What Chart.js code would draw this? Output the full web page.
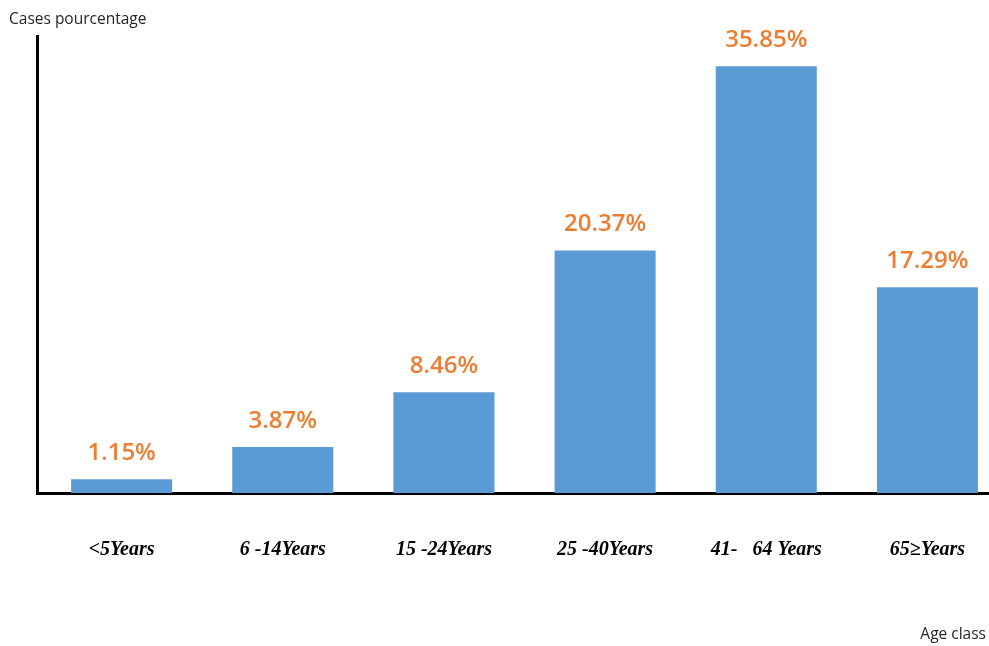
<!DOCTYPE html>
<html>
<head>
<meta charset="utf-8">
<script src="https://cdn.jsdelivr.net/npm/chart.js@4.4.1/dist/chart.umd.min.js"></script>
<style>
  html, body { margin: 0; padding: 0; background: #fff; }
  #wrap { width: 989px; height: 646px; position: relative; }
</style>
</head>
<body>
<div id="wrap"><canvas id="ageChart"></canvas></div>
<script>
const ageClasses = ['<5Years', '6 -14Years', '15 -24Years', '25 -40Years', '41-   64 Years', '65\u2265Years'];
const casePercents = [1.15, 3.87, 8.46, 20.37, 35.85, 17.29];
const yAxisTitle = 'Cases pourcentage';
const xAxisTitle = 'Age class';

// draws the % value above each bar plus the two axis titles
const labelsPlugin = {
    id: 'barLabels',
    afterDatasetsDraw(chart) {
        const ctx = chart.ctx;
        const meta = chart.getDatasetMeta(0);
        ctx.save();
        ctx.fillStyle = '#ED7D31';
        ctx.font = '600 24px "Open Sans"';
        ctx.textAlign = 'center';
        ctx.textBaseline = 'bottom';
        meta.data.forEach((bar, i) => {
            ctx.fillText(casePercents[i].toFixed(2) + '%', bar.x, bar.y - 14);
        });
        ctx.fillStyle = '#262626';
        ctx.font = '15.5px "Open Sans"';
        ctx.textAlign = 'left';
        ctx.textBaseline = 'middle';
        ctx.fillText(yAxisTitle, 9, 20);
        ctx.textAlign = 'right';
        ctx.fillText(xAxisTitle, 986, 635);
        ctx.restore();
    }
};

const ctx = document.getElementById('ageChart').getContext('2d');
new Chart(ctx, {
    type: 'bar',
    data: {
        datasets: [{
            data: casePercents.map((v, i) => ({ x: i, y: v })),
            backgroundColor: '#5B9BD5',
            borderWidth: 0,
            categoryPercentage: 1,
            barPercentage: 0.627
        }]
    },
    options: {
        responsive: true,
        maintainAspectRatio: false,
        animation: false,
        layout: { padding: { top: 36, left: 37, right: 0, bottom: 39 } },
        plugins: {
            legend: { display: false },
            tooltip: { enabled: false }
        },
        scales: {
            x: {
                type: 'linear',
                offset: false,
                min: -0.525,
                max: 5.382,
                grid: { display: false, drawTicks: false },
                border: { display: true, color: '#000', width: 3 },
                afterBuildTicks: (scale) => {
                    scale.ticks = ageClasses.map((_, i) => ({ value: i }));
                },
                afterFit: (scale) => {
                    // let the axis run to the right edge like the original
                    scale.paddingRight = 0;
                },
                ticks: {
                    autoSkip: false,
                    maxRotation: 0,
                    padding: 45,
                    color: '#000',
                    font: { family: '"Liberation Serif"', size: 20, style: 'italic', weight: 'bold' },
                    callback: (value) => ageClasses[value]
                }
            },
            y: {
                min: 0,
                max: 38.4,
                grid: { display: false, drawTicks: false },
                border: { display: true, color: '#000', width: 3 },
                ticks: { display: false }
            }
        }
    },
    plugins: [labelsPlugin]
});
</script>
</body>
</html>
